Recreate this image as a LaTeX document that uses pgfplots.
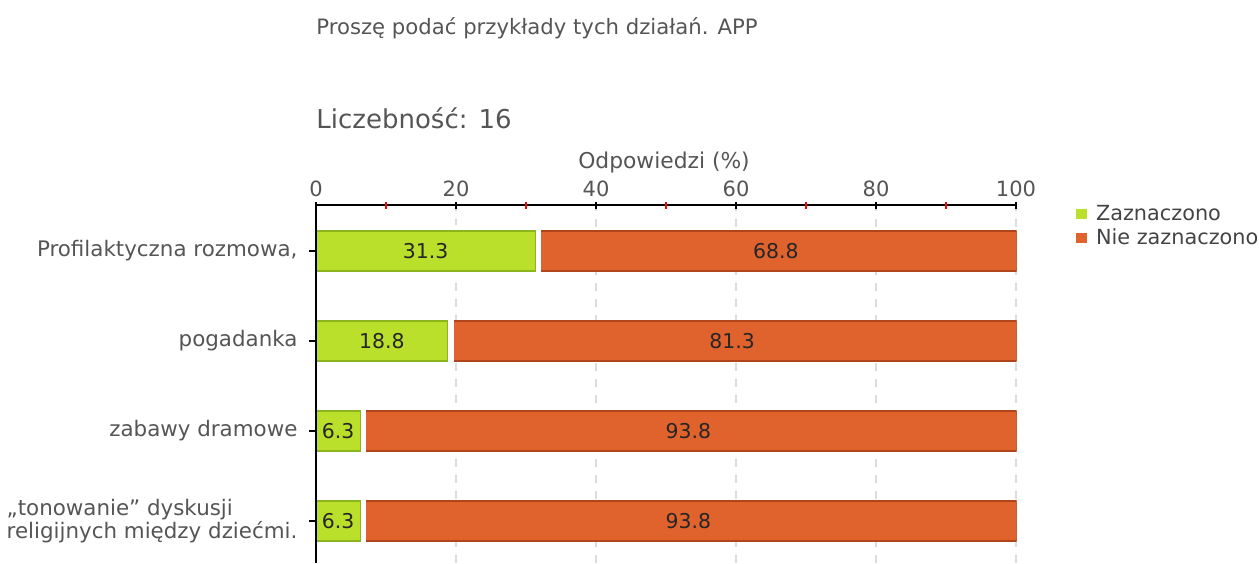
\documentclass[border=0pt]{standalone}
\usepackage{pgfplots}
\pgfplotsset{compat=1.18}
\usepackage{pgfplotstable}
\usepackage{fontspec}
\setmainfont{DejaVu Sans}
\definecolor{gz}{HTML}{BBE02C}
\definecolor{gzd}{HTML}{8CB41C}
\definecolor{or}{HTML}{E0632E}
\definecolor{ord}{HTML}{B0441A}
\definecolor{txt}{HTML}{555555}
\definecolor{gridc}{HTML}{DDDDDD}
\pgfplotsset{
 layers/mine/.define layer set={axis background,axis grid,main,axis lines,axis ticks,axis tick labels,axis descriptions,axis foreground}{
  grid style={/pgfplots/on layer=axis grid},
  tick style={/pgfplots/on layer=axis ticks},
  axis line style={/pgfplots/on layer=axis lines},
  label style={/pgfplots/on layer=axis descriptions},
  legend style={/pgfplots/on layer=axis descriptions},
  ticklabel style={/pgfplots/on layer=axis tick labels},
 },
}
\pgfplotstableread{
y g o
3 31.3 68.8
2 18.8 81.3
1 6.3 93.8
0 6.3 93.8
}\data
\begin{document}
\begin{tikzpicture}[x=1pt,y=1pt]
\node[anchor=west, text=txt, font=\fontsize{10.6}{12}\selectfont, inner sep=0] at (158,267.5) {Proszę podać przykłady tych działań. APP};
\node[anchor=west, text=txt, font=\fontsize{13}{15}\selectfont, inner sep=0] at (158,222.5) {Liczebność: 16};
\node[text=txt, font=\fontsize{10.9}{12}\selectfont, inner sep=0] at (332,200.5) {Odpowiedzi (\%)};
\begin{axis}[
 set layers=mine,
 xbar stacked, bar width=20pt,
 at={(158pt,0pt)}, anchor=south west,
 scale only axis, width=350.35pt, height=179pt,
 xmin=0, xmax=100.1, ymin=-0.467, ymax=3.511,
 axis x line*=top, axis y line*=left,
 axis line style={black, line width=1pt},
 xtick={0,20,...,100}, minor xtick={10,30,...,90},
 ytick={0,1,2,3},
 yticklabels={{„tonowanie” dyskusji\\religijnych między dziećmi.},{zabawy dramowe},{pogadanka},{Profilaktyczna rozmowa,}},
 tick align=center, major tick length=3.5pt, minor tick length=3.5pt,
 major tick style={black, line width=1pt},
 minor tick style={red, line width=1pt},
 ytick style={xshift=-1.75pt},
 xmajorgrids, major grid style={gridc, line width=1pt, dash pattern=on 4pt off 4pt},
 /pgf/number format/assume math mode=true,
 ticklabel style={font=\fontsize{10.5}{12}\selectfont, text=txt},
 xticklabel style={yshift=-1.2pt},
 yticklabel style={align=left, font=\fontsize{10.7}{10}\selectfont, xshift=-4pt},
 legend style={at={(rel axis cs:1.077,1.012)}, anchor=north west, draw=none, fill=none, font=\fontsize{10.4}{12}\selectfont, text=txt!80!black, row sep=-1.5pt, inner sep=0pt},
 legend cell align=left,
 nodes near coords={\pgfmathprintnumber[fixed,precision=1,fixed zerofill]{\pgfplotspointmeta}},
 point meta=explicit,
 every node near coord/.append style={font=\fontsize{10.2}{12}\selectfont, text=black!85},
]
\addplot[fill=gz, draw=gzd, line width=0.6pt, preaction={draw=white, line width=6pt}, legend image code/.code={\fill[gz] (0pt,-2.25pt) rectangle (4.5pt,2.25pt);}] table[x=g, y=y, meta=g] {\data};
\addlegendentry{Zaznaczono}
\addplot[fill=or, draw=ord, line width=0.6pt, legend image code/.code={\fill[or] (0pt,-2.25pt) rectangle (4.5pt,2.25pt);}] table[x=o, y=y, meta=o] {\data};
\addlegendentry{Nie zaznaczono}
\end{axis}
\pgfresetboundingbox
\path[use as bounding box] (0,0) rectangle (629.5,281.5);
\end{tikzpicture}
\end{document}
